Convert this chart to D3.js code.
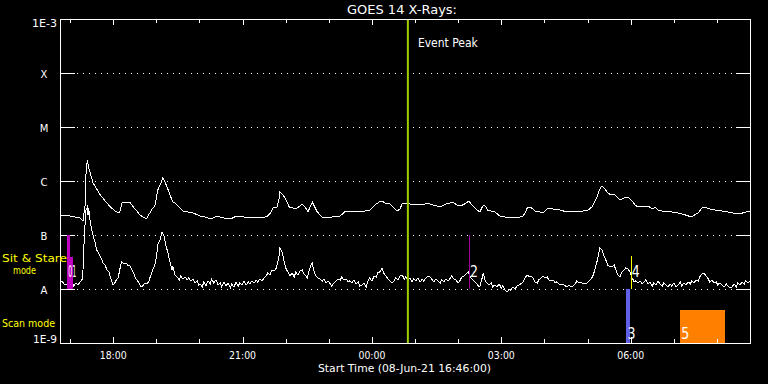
<!DOCTYPE html>
<html>
<head>
<meta charset="utf-8">
<script src="https://cdn.jsdelivr.net/npm/d3@7"></script>
<style>
  html, body { margin: 0; padding: 0; background: #000; }
  svg { display: block; }
  text { font-family: "DejaVu Sans", sans-serif; }
</style>
</head>
<body>
<svg id="chart" width="768" height="384"></svg>
<script>
// ---------------- DATA ----------------
const chartTitle = "GOES 14 X-Rays:";
const startTime = "2021-06-08T16:46:00Z";
const startLabel = "Start Time (08-Jun-21 16:46:00)";
const spanHours = 16;
const fluxMin = 1e-9, fluxMax = 1e-3;
const fluxClassValues = [1e-8, 1e-7, 1e-6, 1e-5, 1e-4];
const fluxClassLabels = ["A", "B", "C", "M", "X"];
const fluxEndLabels = ["1E-9", "1E-3"];
const modeLabels = ["Sit & Stare", "mode", "Scan mode"];
const eventPeakMinute = 484;          // minutes after start
const eventPeakLabel = "Event Peak";

// long channel (1-8 A), [minutes after start, W/m^2]
const longChannel = [
[0,2.25e-7],[14,2.25e-7],[28,2.07e-7],[32,1.82e-7],[35,3.59e-7],[36,1.29e-6],[38,2.45e-6],[40,1.74e-6],
[46,9.18e-7],[56,5.51e-7],[63,4.26e-7],[70,3.30e-7],[77,2.78e-7],[81,2.56e-7],[83,2.56e-7],[86,3.91e-7],
[90,4.08e-7],[97,4.08e-7],[102,3.30e-7],[107,2.78e-7],[111,2.35e-7],[120,1.98e-7],[125,2.56e-7],[129,3.16e-7],
[132,3.44e-7],[136,6.81e-7],[141,9.58e-7],[143,1.14e-6],[146,9.58e-7],[149,7.74e-7],[153,5.51e-7],[157,4.08e-7],
[160,3.91e-7],[163,3.59e-7],[167,3.16e-7],[171,2.78e-7],[178,2.67e-7],[185,2.56e-7],[195,2.25e-7],[202,2.15e-7],
[211,1.98e-7],[218,2.25e-7],[227,2.07e-7],[237,1.98e-7],[246,2.25e-7],[257,2.15e-7],[271,2.15e-7],[282,2.07e-7],
[289,2.25e-7],[294,2.67e-7],[296,3.16e-7],[302,3.30e-7],[305,4.84e-7],[306,6.26e-7],[309,5.75e-7],[313,4.84e-7],
[319,3.30e-7],[324,3.16e-7],[330,3.16e-7],[337,3.75e-7],[341,3.30e-7],[345,2.67e-7],[348,3.30e-7],[351,4.08e-7],
[353,3.59e-7],[358,2.67e-7],[362,2.35e-7],[366,2.07e-7],[378,2.15e-7],[390,2.25e-7],[397,2.78e-7],[403,2.78e-7],
[413,2.78e-7],[424,2.78e-7],[431,2.90e-7],[438,3.59e-7],[444,4.08e-7],[448,4.26e-7],[452,3.91e-7],[459,3.75e-7],
[465,3.16e-7],[469,2.78e-7],[473,3.03e-7],[476,3.75e-7],[483,3.91e-7],[490,3.59e-7],[497,3.75e-7],[504,3.59e-7],
[511,3.91e-7],[519,3.59e-7],[529,3.30e-7],[537,3.75e-7],[547,4.08e-7],[552,3.59e-7],[557,3.44e-7],[563,3.75e-7],
[569,4.26e-7],[573,3.59e-7],[577,3.16e-7],[584,2.67e-7],[589,3.59e-7],[593,3.30e-7],[595,2.90e-7],[605,2.67e-7],
[612,2.25e-7],[619,2.15e-7],[626,2.15e-7],[633,2.07e-7],[640,2.15e-7],[644,2.25e-7],[648,2.67e-7],[650,3.16e-7],
[654,3.30e-7],[658,3.03e-7],[661,2.78e-7],[665,2.78e-7],[671,2.56e-7],[675,2.78e-7],[679,3.16e-7],[686,3.03e-7],
[696,2.90e-7],[705,2.67e-7],[717,2.67e-7],[728,2.78e-7],[735,2.90e-7],[740,3.30e-7],[744,4.08e-7],[747,5.06e-7],
[751,7.11e-7],[754,8.08e-7],[758,7.11e-7],[762,6.00e-7],[767,5.51e-7],[771,5.75e-7],[775,5.06e-7],[779,4.45e-7],
[785,4.84e-7],[790,5.06e-7],[796,4.26e-7],[800,3.59e-7],[804,3.30e-7],[811,3.44e-7],[818,3.44e-7],[824,3.03e-7],
[828,3.30e-7],[832,2.90e-7],[842,2.67e-7],[851,2.67e-7],[860,2.56e-7],[870,2.35e-7],[879,2.15e-7],[883,2.35e-7],
[888,2.56e-7],[893,3.16e-7],[897,3.30e-7],[904,3.03e-7],[911,2.90e-7],[921,2.78e-7],[929,2.67e-7],[936,2.56e-7],
[943,2.45e-7],[950,2.56e-7],[960,2.78e-7]
];

// short channel (0.5-4 A), [minutes after start, W/m^2]
const shortChannel = [
[0,1.29e-8],[3,1.41e-8],[6,1.19e-8],[8,1.24e-8],[11,1.14e-8],[14,1.29e-8],[17,1.35e-8],[19,1.14e-8],[22,1.29e-8],
[25,1.19e-8],[28,1.35e-8],[31,1.53e-8],[32,2.25e-8],[33,5.28e-8],[35,1.74e-7],[36,2.90e-7],[38,3.30e-7],[39,2.35e-7],
[40,3.16e-7],[42,1.74e-7],[45,1.09e-7],[49,7.11e-8],[51,5.28e-8],[56,4.08e-8],[60,3.03e-8],[63,2.78e-8],[65,2.25e-8],
[68,2.07e-8],[70,1.67e-8],[72,1.41e-8],[74,1.19e-8],[77,1.35e-8],[79,1.53e-8],[81,1.60e-8],[83,2.25e-8],[85,2.90e-8],
[86,3.16e-8],[89,2.90e-8],[92,3.03e-8],[95,2.67e-8],[97,2.78e-8],[100,2.25e-8],[103,1.90e-8],[104,1.67e-8],[107,1.47e-8],
[110,1.29e-8],[113,1.09e-8],[115,1.14e-8],[118,1.29e-8],[121,1.24e-8],[124,1.41e-8],[125,1.60e-8],[128,2.07e-8],
[129,2.25e-8],[132,2.78e-8],[134,3.75e-8],[136,6.53e-8],[139,8.08e-8],[142,1.14e-7],[145,9.58e-8],[147,6.53e-8],
[150,4.84e-8],[153,3.16e-8],[156,2.25e-8],[157,2.67e-8],[160,1.82e-8],[163,1.67e-8],[166,1.47e-8],[168,1.74e-8],
[171,1.53e-8],[174,1.67e-8],[177,1.47e-8],[179,1.60e-8],[182,1.41e-8],[185,1.53e-8],[188,1.29e-8],[191,1.41e-8],
[193,1.19e-8],[195,1.24e-8],
[198,1.09e-8],[200,1.35e-8],[203,1.14e-8],[206,1.41e-8],[209,1.24e-8],[211,1.53e-8],[214,1.29e-8],[217,1.47e-8],
[220,1.19e-8],[223,1.29e-8],[225,1.09e-8],[228,1.35e-8],[231,1.14e-8],[234,1.29e-8],[237,1.04e-8],[239,1.24e-8],
[242,1.09e-8],[245,1.35e-8],[248,1.14e-8],[250,1.29e-8],[253,1.19e-8],[256,1.41e-8],[259,1.19e-8],[262,1.35e-8],
[264,1.24e-8],[267,1.41e-8],[270,1.29e-8],[273,1.47e-8],[275,1.35e-8],[278,1.53e-8],[281,1.41e-8],[284,1.60e-8],
[287,1.74e-8],[289,1.98e-8],[292,1.82e-8],[295,2.25e-8],[298,2.15e-8],[301,2.45e-8],[303,3.16e-8],[305,4.26e-8],
[306,5.75e-8],[309,4.84e-8],[312,3.16e-8],[314,2.45e-8],[317,2.07e-8],[320,1.74e-8],[323,1.98e-8],[326,1.67e-8],
[328,2.07e-8],[331,1.82e-8],[334,2.15e-8],[337,2.25e-8],[339,1.90e-8],[342,1.74e-8],[344,1.60e-8],[346,2.07e-8],
[349,2.78e-8],[351,3.03e-8],[353,2.25e-8],[356,1.74e-8],[359,1.60e-8],[362,1.53e-8],[365,1.41e-8],[367,1.53e-8],
[370,1.29e-8],[373,1.41e-8],[376,1.24e-8],[378,1.14e-8],[381,1.29e-8],[384,1.41e-8],[387,1.53e-8],[390,1.47e-8],
[392,1.67e-8],[395,1.47e-8],[398,1.53e-8],[401,1.35e-8],[403,1.41e-8],[406,1.29e-8],[409,1.47e-8],[412,1.24e-8],
[415,1.35e-8],[417,1.14e-8],[420,1.19e-8],[423,1.29e-8],[426,1.09e-8],[429,1.47e-8],[431,1.60e-8],[434,1.41e-8],
[437,1.74e-8],[440,1.67e-8],[442,1.98e-8],[445,2.07e-8],[448,2.45e-8],[451,1.90e-8],[454,1.74e-8],[456,1.53e-8],
[459,1.41e-8],[462,1.29e-8],[465,1.41e-8],[467,1.60e-8],[470,1.47e-8],[473,1.74e-8],[476,1.82e-8],[479,1.53e-8],
[481,1.67e-8],[484,1.47e-8],[487,1.60e-8],[490,1.35e-8],[492,1.53e-8],[495,1.41e-8],[498,1.60e-8],[501,1.35e-8],
[504,1.53e-8],[506,1.41e-8],[509,1.60e-8],[512,1.74e-8],[515,1.67e-8],[518,1.47e-8],[520,1.35e-8],[523,1.53e-8],
[526,1.41e-8],[529,1.29e-8],[531,1.47e-8],[534,1.35e-8],[537,1.53e-8],[540,1.41e-8],[543,1.60e-8],[545,1.74e-8],
[548,1.53e-8],[551,1.47e-8],[554,1.29e-8],[557,1.47e-8],[559,1.67e-8],[562,1.74e-8],[565,1.90e-8],[568,2.07e-8],
[570,1.74e-8],[573,1.53e-8],[576,1.41e-8],[579,1.29e-8],[582,1.14e-8],[584,1.09e-8],
[587,1.53e-8],[589,1.98e-8],[591,1.47e-8],[594,1.29e-8],[597,1.19e-8],[600,1.29e-8],[602,1.09e-8],[605,1.19e-8],
[608,1.09e-8],[611,1.24e-8],[614,1.04e-8],[616,1.14e-8],[619,0.958e-8],[622,0.880e-8],[625,1.00e-8],[627,0.958e-8],
[630,1.09e-8],[633,1.00e-8],[636,1.14e-8],[639,1.19e-8],[641,1.24e-8],[644,1.35e-8],[647,1.60e-8],[650,1.82e-8],
[653,1.67e-8],[655,1.74e-8],[658,1.60e-8],[661,1.35e-8],[664,1.29e-8],[666,1.47e-8],[669,1.60e-8],[672,1.74e-8],
[675,1.60e-8],[678,1.67e-8],[680,1.47e-8],[683,1.41e-8],[686,1.47e-8],[689,1.29e-8],[691,1.35e-8],[694,1.24e-8],
[697,1.19e-8],[700,1.24e-8],[703,1.14e-8],[705,1.09e-8],[708,1.19e-8],[711,1.09e-8],[714,1.14e-8],[717,1.24e-8],
[719,1.41e-8],[722,1.29e-8],[725,1.35e-8],[728,1.24e-8],[730,1.29e-8],[733,1.29e-8],[736,1.41e-8],[739,1.53e-8],
[742,1.82e-8],[744,2.25e-8],[747,3.16e-8],[750,4.84e-8],[751,5.75e-8],[754,5.28e-8],[757,4.08e-8],[760,3.30e-8],
[762,2.78e-8],[765,2.56e-8],[768,2.56e-8],[771,2.78e-8],[774,2.15e-8],[776,1.82e-8],[779,1.67e-8],
[782,2.07e-8],[785,2.25e-8],[787,2.45e-8],[790,2.35e-8],[793,2.07e-8],[796,1.60e-8],[799,1.35e-8],[801,1.41e-8],
[804,1.29e-8],[807,1.41e-8],[810,1.24e-8],[813,1.35e-8],[815,1.47e-8],[818,1.24e-8],[821,1.35e-8],[824,1.14e-8],
[826,1.29e-8],[829,1.19e-8],[832,1.41e-8],[835,1.24e-8],[838,1.14e-8],[840,1.29e-8],[843,1.19e-8],[846,1.09e-8],
[849,1.24e-8],[851,1.14e-8],[854,1.29e-8],[857,1.09e-8],[860,1.19e-8],[863,1.35e-8],[865,1.14e-8],[868,1.29e-8],
[871,1.19e-8],[874,1.35e-8],[877,1.24e-8],[879,1.41e-8],[882,1.29e-8],[885,1.47e-8],[888,1.41e-8],[890,1.67e-8],
[893,1.90e-8],[896,1.98e-8],[899,1.74e-8],[902,1.53e-8],[904,1.35e-8],[907,1.47e-8],[910,1.29e-8],[913,1.35e-8],
[915,1.19e-8],[918,1.29e-8],[921,1.19e-8],[924,1.09e-8],[927,1.24e-8],[929,1.14e-8],[932,1.04e-8],[935,1.09e-8],
[938,1.24e-8],[941,1.09e-8],[943,1.29e-8],[946,1.19e-8],[949,1.35e-8],[952,1.24e-8],[954,1.41e-8],[957,1.29e-8],
[960,1.41e-8]
];

// observation events: label, start/end (minutes after start), flux band low/high
const eventLabels = ["0", "1", "2", "3", "4", "5"];
const eventStart  = [10, 10, 569, 788, 794, 863];
const eventEnd    = [14, 18, 569, 793, 794, 925];
const eventLow    = [1e-8, 1e-8, 1e-8, 1e-9, 1e-8, 1e-9];
const eventHigh   = [1e-7, 3.91e-8, 1e-7, 1e-8, 4.08e-8, 4.08e-9];

// ---------------- STYLE ----------------
const eventColors = ["#c000c0", "#c000c0", "#a000a0", "#6060e8", "#ffff00", "#ff8000"];
const peakColor = "#9fcf00";
const modeColor = "#ffff00";

// ---------------- CHART ----------------
const svg = d3.select("#chart");
svg.append("rect").attr("width", 768).attr("height", 384).attr("fill", "#000");

const t0 = new Date(startTime);
const tAt = m => new Date(t0.getTime() + m * 60000);
const tEnd = tAt(spanHours * 60);

const L = 60, R = 750, T = 19, B = 343;
const x = d3.scaleUtc().domain([t0, tEnd]).range([L, R]);
const y = d3.scaleLog().domain([fluxMin, fluxMax]).range([B, T]);

// dotted class grid + solid ticks on both sides
const grid = svg.append("g");
fluxClassValues.forEach(v => {
  const yy = Math.round(y(v)) + 0.5;
  grid.append("line").attr("x1", 77).attr("x2", 735).attr("y1", yy).attr("y2", yy)
    .attr("stroke", "#fff").attr("stroke-width", 1).attr("stroke-dasharray", "1,5")
    .attr("shape-rendering", "crispEdges");
  grid.append("line").attr("x1", L).attr("x2", L + 15).attr("y1", yy).attr("y2", yy)
    .attr("stroke", "#fff").attr("shape-rendering", "crispEdges");
  grid.append("line").attr("x1", R - 14).attr("x2", R).attr("y1", yy).attr("y2", yy)
    .attr("stroke", "#fff").attr("shape-rendering", "crispEdges");
});

// clip
svg.append("defs").append("clipPath").attr("id", "plotclip")
  .append("rect").attr("x", L).attr("y", T).attr("width", R - L + 1).attr("height", B - T);

const line = d3.line().x(d => x(tAt(d[0]))).y(d => y(d[1]));
const curves = svg.append("g").attr("clip-path", "url(#plotclip)");
[longChannel, shortChannel].forEach(series => {
  curves.append("path").datum(series).attr("d", line)
    .attr("fill", "none").attr("stroke", "#fff").attr("stroke-width", 1)
    .attr("shape-rendering", "crispEdges");
});

// events
const ev = svg.append("g");
eventLabels.forEach((lab, i) => {
  const x0 = x(tAt(eventStart[i])), x1 = x(tAt(eventEnd[i]));
  const yTop = y(eventHigh[i]), yBot = y(eventLow[i]);
  if (eventEnd[i] > eventStart[i]) {
    ev.append("rect").attr("x", Math.round(x0)).attr("y", Math.round(yTop))
      .attr("width", Math.max(1, Math.round(x1) - Math.round(x0)))
      .attr("height", Math.round(yBot) - Math.round(yTop))
      .attr("fill", eventColors[i]).attr("shape-rendering", "crispEdges");
  } else {
    const xx = Math.round(x0) + 0.5;
    ev.append("line").attr("x1", xx).attr("x2", xx).attr("y1", yTop).attr("y2", yBot)
      .attr("stroke", eventColors[i]).attr("stroke-width", 1).attr("shape-rendering", "crispEdges");
  }
});
// labels: events that share a start time share one label slot
const labelGroups = d3.groups(eventLabels.map((lab, i) => ({lab, i})), d => eventStart[d.i]);
labelGroups.forEach(([start, items]) => {
  const first = items[0].i;
  const x0 = x(tAt(start));
  const base = eventLow[first] >= 1e-8 ? y(1e-8) - 12 : y(1e-9) - 4;
  ev.append("text").attr("x", x0 + 1).attr("y", base)
    .attr("font-size", 15).attr("fill", "#fff")
    .attr("textLength", 8).attr("lengthAdjust", "spacingAndGlyphs")
    .text(items.map(d => d.lab).join(""));
});

// event peak
const xp = x(tAt(eventPeakMinute));
svg.append("line").attr("x1", xp).attr("x2", xp).attr("y1", T).attr("y2", B)
  .attr("stroke", peakColor).attr("stroke-width", 2);
svg.append("text").attr("x", xp + 10).attr("y", 47).attr("font-size", 12).attr("fill", "#fff")
  .attr("textLength", 60).attr("lengthAdjust", "spacingAndGlyphs").text(eventPeakLabel);

// frame
svg.append("rect").attr("x", L + 0.5).attr("y", T + 0.5).attr("width", R - L).attr("height", B - T)
  .attr("fill", "none").attr("stroke", "#fff").attr("shape-rendering", "crispEdges");

// time ticks (hourly minor, 3-hourly major), top and bottom, inward
const hours = x.ticks(d3.utcHour.every(1));
const ticksG = svg.append("g").attr("stroke", "#fff").attr("shape-rendering", "crispEdges");
hours.forEach(h => {
  const major = h.getUTCHours() % 3 === 0;
  const len = major ? 6 : 4;
  const xx = Math.round(x(h)) + 0.5;
  ticksG.append("line").attr("x1", xx).attr("x2", xx).attr("y1", T).attr("y2", T + len);
  ticksG.append("line").attr("x1", xx).attr("x2", xx).attr("y1", B).attr("y2", B - len);
});
const fmt = d3.utcFormat("%H:%M");
x.ticks(d3.utcHour.every(3)).forEach(h => {
  svg.append("text").attr("x", x(h)).attr("y", 359).attr("text-anchor", "middle")
    .attr("font-size", 11).attr("fill", "#fff")
    .attr("textLength", 27).attr("lengthAdjust", "spacingAndGlyphs").text(fmt(h));
});

// y labels
fluxClassValues.forEach((v, i) => {
  svg.append("text").attr("x", 44).attr("y", y(v) + 5).attr("text-anchor", "middle")
    .attr("font-size", 10).attr("fill", "#fff").text(fluxClassLabels[i]);
});
svg.append("text").attr("x", 57).attr("y", y(fluxMin)).attr("text-anchor", "end")
  .attr("font-size", 10).attr("fill", "#fff")
  .attr("textLength", 24).attr("lengthAdjust", "spacingAndGlyphs").text(fluxEndLabels[0]);
svg.append("text").attr("x", 57).attr("y", y(fluxMax) + 8).attr("text-anchor", "end")
  .attr("font-size", 10).attr("fill", "#fff")
  .attr("textLength", 25).attr("lengthAdjust", "spacingAndGlyphs").text(fluxEndLabels[1]);

// mode labels
svg.append("text").attr("x", 2).attr("y", 262).attr("font-size", 11).attr("fill", modeColor)
  .attr("textLength", 65).attr("lengthAdjust", "spacingAndGlyphs").text(modeLabels[0]);
svg.append("text").attr("x", 13).attr("y", 274).attr("font-size", 11).attr("fill", modeColor)
  .attr("textLength", 23).attr("lengthAdjust", "spacingAndGlyphs").text(modeLabels[1]);
svg.append("text").attr("x", 2).attr("y", 327).attr("font-size", 11).attr("fill", modeColor)
  .attr("textLength", 53).attr("lengthAdjust", "spacingAndGlyphs").text(modeLabels[2]);

// title and x-axis title
svg.append("text").attr("x", 402).attr("y", 14).attr("text-anchor", "middle")
  .attr("font-size", 12).attr("fill", "#fff")
  .attr("textLength", 110).attr("lengthAdjust", "spacingAndGlyphs").text(chartTitle);
svg.append("text").attr("x", 404.5).attr("y", 372).attr("text-anchor", "middle")
  .attr("font-size", 11).attr("fill", "#fff")
  .attr("textLength", 173).attr("lengthAdjust", "spacingAndGlyphs").text(startLabel);
</script>
</body>
</html>
